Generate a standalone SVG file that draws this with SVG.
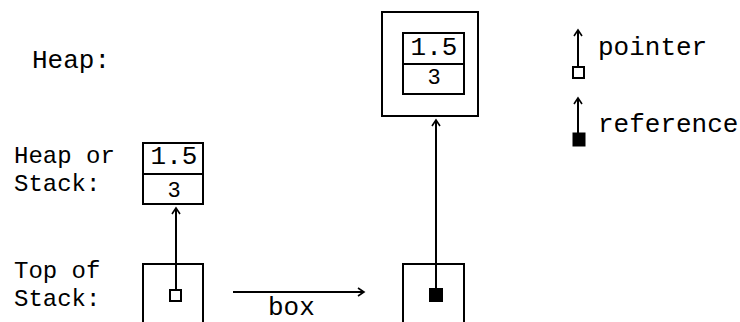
<svg xmlns="http://www.w3.org/2000/svg" width="740" height="322" viewBox="0 0 740 322">
<style>
text{font-family:"Liberation Mono","Courier New",monospace;font-size:26px;fill:#000}
.lb{font-size:24px}
.sm{font-size:22px}
.box{fill:#fff;stroke:#000;stroke-width:2}
.ln{fill:none;stroke:#000;stroke-width:2}
.conn{fill:none;stroke:#000;stroke-width:2;marker-end:url(#ah)}
</style>
<defs>
<marker id="ah" markerUnits="userSpaceOnUse" markerWidth="14" markerHeight="14" refX="0" refY="0" viewBox="-7 -7 14 14" orient="auto">
<path d="M-6,-4 L0,0 L-6,4" fill="none" stroke="#000" stroke-width="1.6"/>
</marker>
</defs>
<rect width="740" height="322" fill="#fff"/>
<g id="labels">
<text x="32" y="68">Heap:</text>
<text class="lb" x="14" y="163">Heap or</text>
<text class="lb" x="14" y="191">Stack:</text>
<text class="lb" x="14" y="278">Top of</text>
<text class="lb" x="14" y="306">Stack:</text>
</g>
<g id="heap-box">
<rect class="box" x="382" y="12" width="96" height="104"/>
<rect class="box" x="403" y="33" width="61" height="61"/>
<line class="ln" x1="403" y1="64" x2="464" y2="64"/>
<text x="434" y="55" text-anchor="middle">1.5</text>
<text class="sm" x="434" y="84" text-anchor="middle">3</text>
</g>
<g id="heap-or-stack-box">
<rect class="box" x="143" y="143" width="60" height="61"/>
<line class="ln" x1="143" y1="174" x2="203" y2="174"/>
<text x="174" y="164" text-anchor="middle">1.5</text>
<text class="sm" x="174" y="197" text-anchor="middle">3</text>
</g>
<g id="stack-left">
<path class="ln" d="M143,330 V264 H203 V330"/>
</g>
<g id="stack-right">
<path class="ln" d="M403,330 V264 H464 V330"/>
</g>
<g id="connectors">
<line class="conn" x1="176" y1="290" x2="176" y2="208"/>
<line class="conn" x1="436" y1="295" x2="436" y2="120"/>
<line class="conn" x1="233" y1="292" x2="364" y2="292"/>
<line class="conn" x1="578" y1="67" x2="578" y2="30"/>
<line class="conn" x1="578" y1="133" x2="578" y2="98"/>
</g>
<g id="pointer-markers">
<rect x="170" y="290" width="11" height="11" fill="#fff" stroke="#000" stroke-width="2"/>
<rect x="430" y="289" width="12" height="12" fill="#000" stroke="#000" stroke-width="2"/>
</g>
<g id="legend">
<rect x="573" y="67" width="11" height="11" fill="#fff" stroke="#000" stroke-width="2"/>
<text x="598" y="55">pointer</text>
<rect x="573" y="133" width="12" height="13" fill="#000" stroke="#000" stroke-width="1"/>
<text x="598" y="132">reference</text>
</g>
<text x="268" y="315">box</text>
</svg>
